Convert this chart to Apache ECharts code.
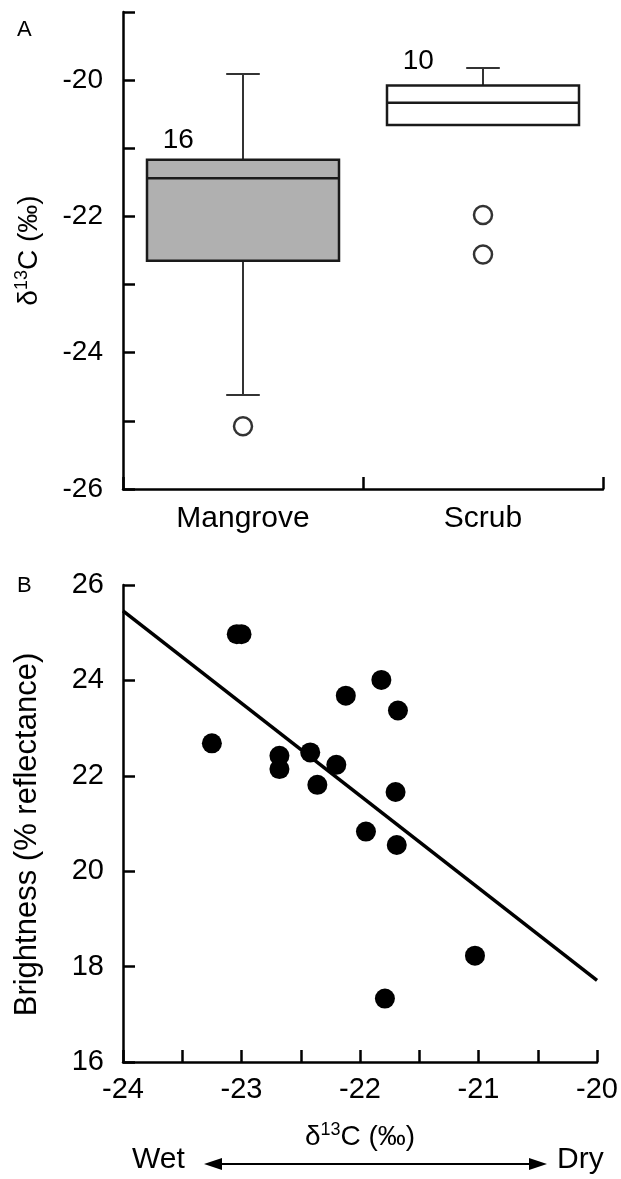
<!DOCTYPE html>
<html>
<head>
<meta charset="utf-8">
<script src="https://cdn.jsdelivr.net/npm/echarts@6/dist/echarts.min.js"></script>
<style>
html,body{margin:0;padding:0;background:#fff;}
#chart{width:621px;height:1179px;}
</style>
</head>
<body>
<div id="chart"></div>
<script>
// Panel A: box plots of δ13C
const categories = ['Mangrove', 'Scrub'];
const lowerWhisker = [-24.62, -20.66];
const q1 = [-22.65, -20.66];
const median = [-21.44, -20.33];
const q3 = [-21.17, -20.08];
const upperWhisker = [-19.91, -19.82];
const sampleSizes = ['16', '10'];
const sampleLabelY = [-20.88, -19.72];
const outlierCategory = [0, 1, 1];
const outlierValue = [-25.08, -21.98, -22.56];
const yTicksA = [-26, -24, -22, -20];

// Panel B: brightness vs δ13C
const d13C = [-23.25, -23.04, -23.00, -22.68, -22.68, -22.42, -22.36, -22.20, -22.12, -21.95, -21.82, -21.68, -21.70, -21.69, -21.03, -21.79];
const brightness = [22.68, 24.97, 24.97, 22.42, 22.14, 22.49, 21.81, 22.23, 23.68, 20.83, 24.01, 23.37, 21.66, 20.55, 18.23, 17.33];
const fitX = [-24, -20];
const fitY = [25.46, 17.71];
const xTicksB = [-24, -23, -22, -21, -20];

const FONT = 'Liberation Sans';
const boxData = categories.map((c, i) => [i, lowerWhisker[i], q1[i], median[i], q3[i], upperWhisker[i]]);
const labelData = categories.map((c, i) => [i, sampleLabelY[i]]);
const outlierData = outlierCategory.map((c, i) => [c, outlierValue[i]]);
const scatterData = d13C.map((x, i) => [x, brightness[i]]);
const fitData = fitX.map((x, i) => [x, fitY[i]]);

const chart = echarts.init(document.getElementById('chart'));

function renderBox(params, api) {
  const idx = api.value(0);
  const band = api.size([1, 0])[0];
  const cx = api.coord([idx, 0])[0];
  const y = v => api.coord([idx, v])[1];
  const lo = api.value(1), b1 = api.value(2), md = api.value(3), b3 = api.value(4), hi = api.value(5);
  const half = band * 0.4;
  const cap = band * 0.07;
  const wStyle = {stroke: '#333', lineWidth: 2};
  const children = [];
  if (hi > b3) {
    children.push({type: 'line', shape: {x1: cx, y1: y(hi), x2: cx, y2: y(b3)}, style: wStyle});
    children.push({type: 'line', shape: {x1: cx - cap, y1: y(hi), x2: cx + cap, y2: y(hi)}, style: wStyle});
  }
  if (lo < b1) {
    children.push({type: 'line', shape: {x1: cx, y1: y(b1), x2: cx, y2: y(lo)}, style: wStyle});
    children.push({type: 'line', shape: {x1: cx - cap, y1: y(lo), x2: cx + cap, y2: y(lo)}, style: wStyle});
  }
  children.push({type: 'rect', shape: {x: cx - half, y: y(b3), width: half * 2, height: y(b1) - y(b3)},
    style: {fill: idx === 0 ? '#b0b0b0' : '#ffffff', stroke: '#1a1a1a', lineWidth: 2.5}});
  children.push({type: 'line', shape: {x1: cx - half, y1: y(md), x2: cx + half, y2: y(md)}, style: {stroke: '#1a1a1a', lineWidth: 2.5}});
  return {type: 'group', children};
}

function renderLabel(params, api) {
  const idx = api.value(0);
  const band = api.size([1, 0])[0];
  const p = api.coord([idx, api.value(1)]);
  return {type: 'text', x: p[0] - band * 0.27, y: p[1],
    style: {text: sampleSizes[idx], fill: '#000', font: '28px "' + FONT + '"', align: 'center', verticalAlign: 'middle'}};
}

const axisLineStyle = {show: true, onZero: false, lineStyle: {color: '#000', width: 2.5}};
const tickStyle = {show: true, inside: true, length: 12, lineStyle: {color: '#000', width: 2.5}};
const labelStyle = {color: '#000', fontSize: 28, fontFamily: FONT};
const nameRich = {
  n: {fontSize: 28, fontFamily: FONT, color: '#000', lineHeight: 32},
  s: {fontSize: 18, fontFamily: FONT, color: '#000', lineHeight: 18, verticalAlign: 'top'}
};

chart.setOption({
  animation: false,
  backgroundColor: '#fff',
  title: [
    {text: 'A', left: 17, top: 19, padding: 0, textStyle: {fontSize: 22, fontWeight: 'normal', fontFamily: FONT, color: '#000'}},
    {text: 'B', left: 17, top: 575, padding: 0, textStyle: {fontSize: 22, fontWeight: 'normal', fontFamily: FONT, color: '#000'}}
  ],
  grid: [
    {left: 123, top: 12, width: 480, height: 477},
    {left: 123, top: 585, width: 480, height: 477}
  ],
  xAxis: [
    {gridIndex: 0, type: 'category', data: categories, boundaryGap: true,
      axisLine: axisLineStyle, axisTick: Object.assign({alignWithLabel: false, interval: 0}, tickStyle),
      axisLabel: Object.assign({margin: 15}, labelStyle, {fontSize: 30}), splitLine: {show: false}},
    {gridIndex: 1, type: 'value', min: -24, max: -20, interval: 0.5,
      axisLine: axisLineStyle, axisTick: tickStyle, splitLine: {show: false},
      axisLabel: Object.assign({margin: 13, formatter: v => xTicksB.includes(v) ? String(v) : ''}, labelStyle, {fontSize: 29}),
      name: '{n|δ}{s|13}{n|C (‰)}', nameLocation: 'middle', nameGap: 59,
      nameTextStyle: {rich: nameRich}}
  ],
  yAxis: [
    {gridIndex: 0, type: 'value', min: -26, max: -19, interval: 1,
      axisLine: axisLineStyle, axisTick: tickStyle, splitLine: {show: false},
      axisLabel: Object.assign({margin: 20, formatter: v => yTicksA.includes(v) ? String(v) : ''}, labelStyle),
      name: '{n|δ}{s|13}{n|C (‰)}', nameLocation: 'middle', nameGap: 78, nameRotate: 90,
      nameTextStyle: {rich: nameRich}},
    {gridIndex: 1, type: 'value', min: 16, max: 26, interval: 2,
      axisLine: axisLineStyle, axisTick: tickStyle, splitLine: {show: false},
      axisLabel: Object.assign({margin: 19}, labelStyle, {fontSize: 29}),
      name: 'Brightness (% reflectance)', nameLocation: 'middle', nameGap: 80, nameRotate: 90,
      nameTextStyle: {fontSize: 31, fontFamily: FONT, color: '#000', padding: [0, 0, 0, -22]}}
  ],
  series: [
    {type: 'custom', xAxisIndex: 0, yAxisIndex: 0, renderItem: renderBox, data: boxData,
      encode: {x: 0, y: [1, 2, 3, 4, 5]}, z: 2},
    {type: 'custom', xAxisIndex: 0, yAxisIndex: 0, renderItem: renderLabel, data: labelData,
      encode: {x: 0, y: 1}, z: 3},
    {type: 'scatter', xAxisIndex: 0, yAxisIndex: 0, data: outlierData, symbol: 'circle', symbolSize: 18,
      itemStyle: {color: '#fff', borderColor: '#000', borderWidth: 2.5}, z: 4},
    {type: 'line', xAxisIndex: 1, yAxisIndex: 1, data: fitData, showSymbol: false, symbol: 'none',
      lineStyle: {color: '#000', width: 3.5}, z: 2},
    {type: 'scatter', xAxisIndex: 1, yAxisIndex: 1, data: scatterData, symbol: 'circle', symbolSize: 20,
      itemStyle: {color: '#000', opacity: 1}, z: 3}
  ],
  graphic: [
    {type: 'text', left: 132, top: 1145, style: {text: 'Wet', font: '30px "' + FONT + '"', fill: '#000'}},
    {type: 'text', left: 557, top: 1145, style: {text: 'Dry', font: '30px "' + FONT + '"', fill: '#000'}},
    {type: 'line', shape: {x1: 212, y1: 1164, x2: 539, y2: 1164}, style: {stroke: '#000', lineWidth: 2}},
    {type: 'polygon', shape: {points: [[204, 1164], [222, 1158], [222, 1170]]}, style: {fill: '#000'}},
    {type: 'polygon', shape: {points: [[547, 1164], [529, 1158], [529, 1170]]}, style: {fill: '#000'}}
  ]
});
</script>
</body>
</html>
